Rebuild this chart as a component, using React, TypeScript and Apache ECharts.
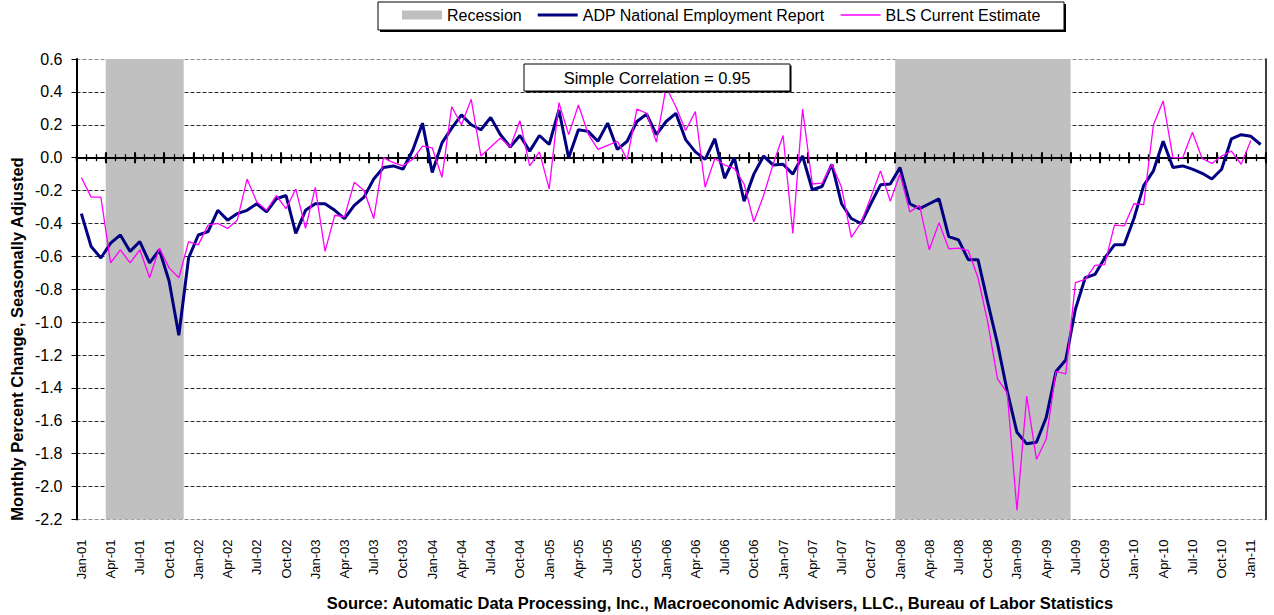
import React, { useEffect, useRef } from "react";
import * as echarts from "echarts";

const FONT = "Arial, 'Liberation Sans', sans-serif";

const MONTHS = ["Jan", "Feb", "Mar", "Apr", "May", "Jun", "Jul", "Aug", "Sep", "Oct", "Nov", "Dec"];
const YEARS = ["01", "02", "03", "04", "05", "06", "07", "08", "09", "10", "11"];
const LAST_MONTH = "Feb-11";

const CATEGORIES: string[] = [];
for (const y of YEARS) {
  for (const m of MONTHS) {
    if (CATEGORIES.length && CATEGORIES[CATEGORIES.length - 1] === LAST_MONTH) break;
    CATEGORIES.push(`${m}-${y}`);
  }
}

// ADP National Employment Report, monthly % change (Jan-01 .. Feb-11)
const ADP = [
  -0.34, -0.54, -0.61, -0.52, -0.47, -0.57, -0.51, -0.64, -0.56, -0.75, -1.08, -0.61,
  -0.47, -0.45, -0.32, -0.38, -0.34, -0.32, -0.28, -0.33, -0.25, -0.23, -0.46, -0.32,
  -0.28, -0.28, -0.32, -0.37, -0.29, -0.24, -0.13, -0.06, -0.05, -0.07, 0.045, 0.21,
  -0.09, 0.09, 0.18, 0.26, 0.2, 0.17, 0.245, 0.14, 0.065, 0.135, 0.04, 0.135,
  0.08, 0.29, 0.0, 0.17, 0.16, 0.1, 0.21, 0.05, 0.1, 0.22, 0.265, 0.14,
  0.22, 0.27, 0.11, 0.035, -0.01, 0.115, -0.125, 0.0, -0.265, -0.1, 0.01, -0.045,
  -0.04, -0.1, 0.01, -0.195, -0.175, -0.04, -0.28, -0.37, -0.4, -0.28, -0.165, -0.16,
  -0.06, -0.28, -0.31, -0.28, -0.25, -0.48, -0.5, -0.62, -0.62, -0.88, -1.13, -1.42,
  -1.67, -1.74, -1.73, -1.58, -1.3, -1.23, -0.92, -0.73, -0.71, -0.61, -0.53, -0.53,
  -0.37, -0.17, -0.08, 0.1, -0.06, -0.05, -0.07, -0.095, -0.13, -0.07, 0.115, 0.14,
  0.13, 0.08,
];

// BLS Current Estimate, monthly % change (Jan-01 .. Jan-11)
const BLS = [
  -0.12, -0.24, -0.24, -0.64, -0.56, -0.64, -0.56, -0.73, -0.55, -0.67, -0.73, -0.51,
  -0.53, -0.41, -0.4, -0.43, -0.38, -0.13, -0.27, -0.32, -0.23, -0.31, -0.19, -0.43,
  -0.18, -0.57, -0.35, -0.36, -0.15, -0.2, -0.37, 0.0, -0.03, -0.05, -0.01, 0.07,
  0.06, -0.12, 0.31, 0.2, 0.355, 0.01, 0.065, 0.12, 0.065, 0.225, -0.05, 0.035,
  -0.19, 0.335, 0.14, 0.32, 0.145, 0.05, 0.075, 0.1, -0.01, 0.295, 0.27, 0.095,
  0.43, 0.31, 0.165, 0.28, -0.18, -0.005, -0.045, -0.065, -0.16, -0.39, -0.23, -0.035,
  0.135, -0.46, 0.295, -0.16, -0.155, -0.04, -0.18, -0.485, -0.395, -0.24, -0.08, -0.265,
  -0.1, -0.33, -0.29, -0.56, -0.395, -0.555, -0.55, -0.565, -0.73, -1.0, -1.345, -1.43,
  -2.145, -1.45, -1.835, -1.71, -1.3, -1.315, -0.76, -0.74, -0.655, -0.65, -0.41, -0.415,
  -0.28, -0.285, 0.2, 0.345, 0.0, 0.0, 0.155, -0.005, -0.035, 0.01, 0.04, -0.04,
  0.105,
];

// Recession periods (first and last shaded month)
const RECESSIONS: [string, string][] = [
  ["Apr-01", "Nov-01"],
  ["Jan-08", "Jun-09"],
];

const Y_MIN = -2.2;
const Y_MAX = 0.6;
const Y_STEP = 0.2;

const LEGEND_NAMES = ["Recession", "ADP National Employment Report", "BLS Current Estimate"];
const CORRELATION_TEXT = "Simple Correlation = 0.95";
const Y_TITLE = "Monthly Percent Change, Seasonally Adjusted";
const SOURCE_TEXT =
  "Source: Automatic Data Processing, Inc., Macroeconomic Advisers, LLC., Bureau of Labor Statistics";

export default function App() {
  const ref = useRef<HTMLDivElement>(null);

  useEffect(() => {
    if (!ref.current) return;
    const chart = echarts.init(ref.current, undefined, { renderer: "svg" });

    const nLines = Math.round((Y_MAX - Y_MIN) / Y_STEP) + 1;
    const splitColors = Array.from({ length: nLines }, (_, i) =>
      i === 0 || i === nLines - 1 ? "#8c8c8c" : "#2a2a2a"
    );

    const tickAxis = (len: number, inside: boolean, interval: number, showLine: boolean, width: number) => ({
      type: "category",
      data: CATEGORIES,
      position: "bottom",
      z: 3,
      axisLine: {
        show: true,
        onZero: true,
        onZeroAxisIndex: 0,
        lineStyle: { color: showLine ? "#000" : "rgba(0,0,0,0)", width: 2 },
      },
      axisTick: { show: true, interval, length: len, inside, lineStyle: { color: "#000", width } },
      axisLabel: { show: false },
      splitLine: { show: false },
    });

    const recessionAreas = RECESSIONS.map(([a, b]) => [
      { xAxis: CATEGORIES.indexOf(a) },
      { xAxis: CATEGORIES.indexOf(b) + 1 },
    ]);

    const option: any = {
      animation: false,
      backgroundColor: "#fff",
      textStyle: { fontFamily: FONT },
      grid: { left: 76.5, right: 8.5, top: 59, bottom: 95.5, containLabel: false },
      legend: {
        left: 402,
        top: 7,
        z: 10,
        padding: 0,
        itemWidth: 40,
        itemHeight: 9,
        itemGap: 16,
        selectedMode: false,
        textStyle: { fontSize: 16, color: "#000", fontFamily: FONT },
        data: [
          { name: LEGEND_NAMES[0], icon: "rect" },
          { name: LEGEND_NAMES[1], icon: "path://M0,0H40V3H0Z" },
          { name: LEGEND_NAMES[2], icon: "path://M0,0H40V1.3H0Z" },
        ],
      },
      xAxis: [
        {
          type: "category",
          data: CATEGORIES,
          position: "bottom",
          axisLine: { show: false, onZero: false },
          axisTick: { show: false },
          axisLabel: {
            interval: 2,
            rotate: 90,
            fontSize: 13,
            color: "#000",
            margin: 20,
            fontFamily: FONT,
          },
          splitLine: { show: false },
        },
        tickAxis(3.5, false, 0, true, 1.3),
        tickAxis(3.5, true, 0, false, 1.3),
        tickAxis(5.5, false, 2, false, 2),
        tickAxis(5.5, true, 2, false, 2),
        {
          type: "value",
          min: 0,
          max: CATEGORIES.length,
          show: false,
          axisLine: { onZero: false },
          splitLine: { show: false },
        },
      ],
      yAxis: [
        {
          type: "value",
          min: Y_MIN,
          max: Y_MAX,
          interval: Y_STEP,
          axisLine: { show: true, onZero: false, lineStyle: { color: "#000", width: 2 } },
          axisTick: { show: true, length: 5, lineStyle: { color: "#000", width: 1 } },
          axisLabel: {
            fontSize: 16,
            color: "#000",
            margin: 14,
            fontFamily: FONT,
            formatter: (v: number) => (Math.abs(v) < 1e-9 ? "0.0" : v.toFixed(1)),
          },
          splitLine: {
            show: true,
            lineStyle: { color: splitColors, width: 1, type: [4, 2] },
          },
        },
        {
          type: "value",
          position: "right",
          min: Y_MIN,
          max: Y_MAX,
          interval: Y_STEP,
          axisLine: { show: true, onZero: false, lineStyle: { color: "#000", width: 1.5 } },
          axisTick: { show: false },
          axisLabel: { show: false },
          splitLine: { show: false },
        },
      ],
      series: [
        {
          name: LEGEND_NAMES[0],
          type: "line",
          data: [],
          xAxisIndex: 5,
          yAxisIndex: 0,
          symbol: "none",
          itemStyle: { color: "#c0c0c0" },
          lineStyle: { color: "#c0c0c0" },
          z: 1,
          silent: true,
          markArea: {
            silent: true,
            itemStyle: { color: "#c0c0c0" },
            data: recessionAreas,
          },
        },
        {
          name: LEGEND_NAMES[1],
          type: "line",
          data: ADP,
          xAxisIndex: 0,
          yAxisIndex: 0,
          symbol: "none",
          lineStyle: { color: "#000080", width: 3 },
          itemStyle: { color: "#000080" },
          z: 5,
        },
        {
          name: LEGEND_NAMES[2],
          type: "line",
          data: BLS,
          xAxisIndex: 0,
          yAxisIndex: 0,
          symbol: "none",
          lineStyle: { color: "#ff00ff", width: 1.3 },
          itemStyle: { color: "#ff00ff" },
          z: 6,
        },
      ],
      graphic: [
        { type: "rect", z: 0, shape: { x: 380, y: 4, width: 686, height: 28 }, style: { fill: "#000" } },
        {
          type: "rect",
          z: 1,
          shape: { x: 378, y: 2, width: 686, height: 28 },
          style: { fill: "#fff", stroke: "#000", lineWidth: 1 },
        },
        { type: "rect", z: 20, shape: { x: 525.5, y: 65.5, width: 266, height: 27 }, style: { fill: "#000" } },
        {
          type: "rect",
          z: 21,
          shape: { x: 524, y: 64, width: 266, height: 27 },
          style: { fill: "#fff", stroke: "#000", lineWidth: 1 },
        },
        {
          type: "text",
          z: 22,
          x: 657,
          y: 78,
          style: {
            text: CORRELATION_TEXT,
            font: `16.5px ${FONT}`,
            fill: "#000",
            textAlign: "center",
            textVerticalAlign: "middle",
          },
        },
        {
          type: "text",
          z: 22,
          x: 17,
          y: 339,
          rotation: Math.PI / 2,
          style: {
            text: Y_TITLE,
            font: `bold 16.5px ${FONT}`,
            fill: "#000",
            textAlign: "center",
            textVerticalAlign: "middle",
          },
        },
        {
          type: "text",
          z: 22,
          x: 720,
          y: 603,
          style: {
            text: SOURCE_TEXT,
            font: `bold 16.5px ${FONT}`,
            fill: "#000",
            textAlign: "center",
            textVerticalAlign: "middle",
          },
        },
      ],
    };

    chart.setOption(option);
    return () => chart.dispose();
  }, []);

  return (
    <div
      ref={ref}
      style={{ position: "absolute", left: 0, top: 0, width: 1274, height: 615, background: "#fff" }}
    />
  );
}
